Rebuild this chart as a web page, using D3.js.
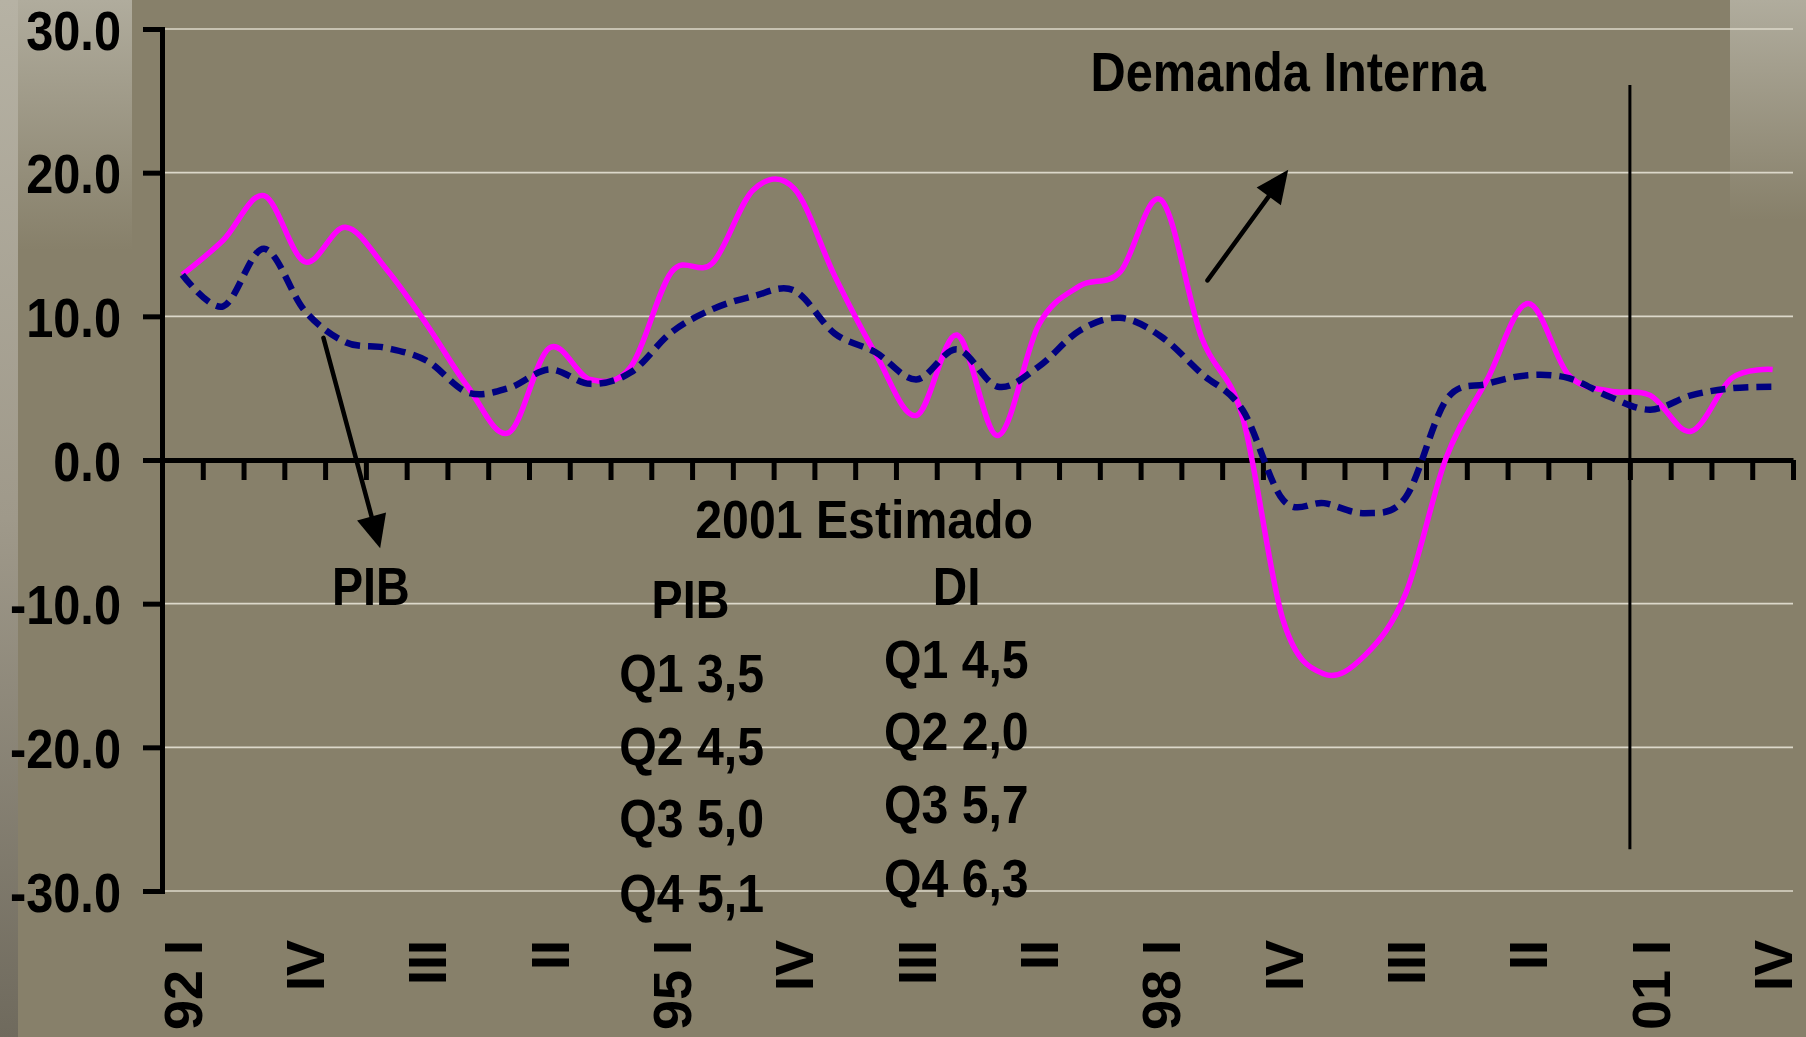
<!DOCTYPE html>
<html>
<head>
<meta charset="utf-8">
<script src="https://cdn.jsdelivr.net/npm/d3@7"></script>
<style>
  body { margin: 0; background: #87806a; }
  svg { display: block; }
  text { font-family: "Liberation Sans", Arial, sans-serif; font-weight: bold; fill: #000; }
</style>
</head>
<body>
<svg id="chart" width="1806" height="1037"></svg>
<script>
// quarterly categories, 1992 Q1 .. 2001 Q4
const quarters = [
  "92 I", "II", "III", "IV", "93 I", "II", "III", "IV", "94 I", "II",
  "III", "IV", "95 I", "II", "III", "IV", "96 I", "II", "III", "IV",
  "97 I", "II", "III", "IV", "98 I", "II", "III", "IV", "99 I", "II",
  "III", "IV", "00 I", "II", "III", "IV", "01 I", "II", "III", "IV"
];

// PIB (dashed navy)
const pib = [
  12.9, 10.7, 14.7, 10.4, 8.2, 7.8, 6.9, 4.7, 5.0, 6.3,
  5.3, 6.1, 8.9, 10.5, 11.4, 11.8, 8.8, 7.5, 5.6, 7.7,
  5.1, 6.5, 9.0, 9.9, 8.6, 6.0, 3.5, -2.8, -3.0, -3.7,
  -2.6, 4.2, 5.3, 5.9, 5.7, 4.4, 3.5, 4.5, 5.0, 5.1
];

// Demanda Interna (solid magenta)
const demanda = [
  12.9, 15.3, 18.4, 13.8, 16.2, 13.3, 9.4, 5.1, 1.9, 7.8,
  5.6, 6.5, 13.1, 13.7, 18.8, 18.9, 12.8, 7.4, 3.1, 8.7,
  1.7, 9.4, 12.1, 13.1, 18.1, 8.5, 3.0, -11.2, -14.9, -13.6,
  -9.3, 0.2, 5.6, 10.9, 5.9, 4.8, 4.5, 2.0, 5.7, 6.3
];

const yTicks = [-30, -20, -10, 0, 10, 20, 30];
const labelEvery = 3;
const pib2001 = ["Q1 3,5", "Q2 4,5", "Q3 5,0", "Q4 5,1"];
const di2001 = ["Q1 4,5", "Q2 2,0", "Q3 5,7", "Q4 6,3"];

const svg = d3.select("#chart");

const plotLeft = 162, plotRight = 1793, plotTop = 29, plotBottom = 891;
const x = d3.scaleLinear([0, quarters.length], [plotLeft, plotRight]);
const y = d3.scaleLinear([-30, 30], [plotBottom, plotTop]);

// background shading like the slide
const defs = svg.append("defs");
const g1 = defs.append("linearGradient").attr("id", "leftStrip")
  .attr("x1", 0).attr("y1", 0).attr("x2", 0).attr("y2", 1);
g1.append("stop").attr("offset", "0%").attr("stop-color", "#b6b2a4");
g1.append("stop").attr("offset", "50%").attr("stop-color", "#9f998a");
g1.append("stop").attr("offset", "100%").attr("stop-color", "#6f6a5d");
const g2 = defs.append("linearGradient").attr("id", "fadeDown")
  .attr("x1", 0).attr("y1", 0).attr("x2", 0).attr("y2", 1);
g2.append("stop").attr("offset", "0%").attr("stop-color", "#b0ac9d");
g2.append("stop").attr("offset", "100%").attr("stop-color", "#87806a");

svg.append("rect").attr("width", 1806).attr("height", 1037).attr("fill", "#87806a");
svg.append("rect").attr("x", 0).attr("y", 0).attr("width", 18).attr("height", 1037).attr("fill", "url(#leftStrip)");
svg.append("rect").attr("x", 18).attr("y", 0).attr("width", 114).attr("height", 250).attr("fill", "url(#fadeDown)");
svg.append("rect").attr("x", 1730).attr("y", 0).attr("width", 76).attr("height", 220).attr("fill", "url(#fadeDown)");

// gridlines
svg.append("g")
  .selectAll("line")
  .data(yTicks.filter(d => d !== 0))
  .join("line")
  .attr("x1", x(0))
  .attr("x2", x(quarters.length))
  .attr("y1", d => y(d))
  .attr("y2", d => y(d))
  .attr("stroke", "#dcd8ca")
  .attr("stroke-width", 1.6);

// y axis
const yAxis = svg.append("g")
  .attr("transform", `translate(${x(0)},0)`)
  .call(d3.axisLeft(y).tickValues(yTicks).tickFormat(d => d.toFixed(1)).tickSize(19).tickPadding(22).tickSizeOuter(0))
  .attr("font-size", null).attr("font-family", null);
yAxis.select(".domain").attr("stroke", "#000").attr("stroke-width", 5).attr("stroke-linecap", "square");
yAxis.selectAll(".tick line").attr("stroke", "#000").attr("stroke-width", 5);
yAxis.selectAll(".tick text").attr("class", "sq").attr("font-size", 56).attr("dy", "0.36em");

// x axis
const xAxis = svg.append("g")
  .attr("transform", `translate(0,${y(0)})`)
  .call(d3.axisBottom(x).tickValues(d3.range(0, quarters.length + 1)).tickFormat("").tickSize(20).tickSizeOuter(0));
xAxis.select(".domain").attr("stroke", "#000").attr("stroke-width", 5);
xAxis.selectAll(".tick line").attr("stroke", "#000").attr("stroke-width", 5);

// category labels, rotated
svg.append("g")
  .selectAll("text")
  .data(quarters.map((q, i) => ({q, i})).filter(d => d.i % labelEvery === 0))
  .join("text")
  .attr("transform", d => `translate(${x(d.i + 0.5)},940) rotate(-90)`)
  .attr("text-anchor", "end")
  .attr("dy", "0.36em")
  .attr("font-size", 54)
  .text(d => d.q);

// 2001 divider
svg.append("line")
  .attr("x1", x(36)).attr("x2", x(36))
  .attr("y1", y(26.1)).attr("y2", y(-27.1))
  .attr("stroke", "#000").attr("stroke-width", 3);

// series
const line = d3.line()
  .x((d, i) => x(i + 0.5))
  .y(d => y(d))
  .curve(d3.curveCatmullRom.alpha(0));

svg.append("path")
  .attr("d", line(demanda))
  .attr("fill", "none")
  .attr("stroke", "#ff00ff")
  .attr("stroke-width", 5.5)
  .attr("stroke-linejoin", "round");

svg.append("path")
  .attr("d", line(pib))
  .attr("fill", "none")
  .attr("stroke", "#000080")
  .attr("stroke-width", 6.5)
  .attr("stroke-dasharray", "15,8");

// arrows (positions in quarter / value units)
const arrows = [
  {from: [25.64, 12.5], to: [27.62, 20.2]},
  {from: [3.96, 8.5], to: [5.35, -6.15]}
];
arrows.forEach(a => {
  const x0 = x(a.from[0]), y0 = y(a.from[1]);
  const x1 = x(a.to[0]), y1 = y(a.to[1]);
  const len = Math.hypot(x1 - x0, y1 - y0);
  const ux = (x1 - x0) / len, uy = (y1 - y0) / len;
  const hl = 33, hw = 15;
  const bx = x1 - ux * hl, by = y1 - uy * hl;
  svg.append("line")
    .attr("x1", x0).attr("y1", y0).attr("x2", bx).attr("y2", by)
    .attr("stroke", "#000").attr("stroke-width", 4.5).attr("stroke-linecap", "round");
  svg.append("path")
    .attr("d", `M${x1},${y1}L${bx - uy * hw},${by + ux * hw}L${bx + uy * hw},${by - ux * hw}Z`)
    .attr("fill", "#000");
});

// annotations
const notes = [
  {t: "Demanda Interna", q: 27.62, v: 25.68, size: 56, k: 0.87},
  {t: "PIB", q: 5.12, v: -10.09, size: 53, k: 0.88},
  {t: "2001 Estimado", q: 17.22, v: -5.45, size: 53, k: 0.91},
  {t: "PIB", q: 12.96, v: -11.0, size: 53, k: 0.88},
  {t: "DI", q: 19.49, v: -10.09, size: 53, k: 0.9}
];
const pibRows = [-16.18, -21.23, -26.22, -31.44];
const diRows = [-15.19, -20.19, -25.29, -30.40];
pib2001.forEach((t, i) => notes.push({t, q: 12.99, v: pibRows[i], size: 53, k: 0.91}));
di2001.forEach((t, i) => notes.push({t, q: 19.48, v: diRows[i], size: 53, k: 0.91}));

svg.append("g")
  .selectAll("text")
  .data(notes)
  .join("text")
  .attr("class", "sq")
  .attr("x", d => x(d.q))
  .attr("y", d => y(d.v))
  .attr("text-anchor", "middle")
  .attr("font-size", d => d.size)
  .text(d => d.t);

// the original uses a narrow bold face: squeeze glyphs horizontally
svg.selectAll("text.sq").each(function(d) {
  const k = d && d.k ? d.k : 0.87;
  const w = this.getComputedTextLength();
  this.setAttribute("textLength", w * k);
  this.setAttribute("lengthAdjust", "spacingAndGlyphs");
});
</script>
</body>
</html>
